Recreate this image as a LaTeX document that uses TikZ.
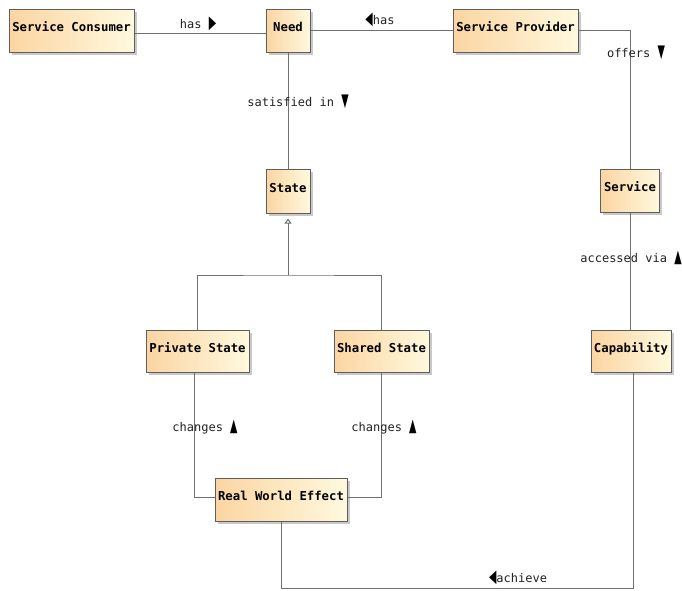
\documentclass[tikz,border=0pt]{standalone}
\usepackage{fontspec}
\usetikzlibrary{shadows,arrows.meta}
\newfontfamily\boxfont{DejaVu Sans Mono}
\newfontfamily\lblfont{DejaVu Sans Mono}
\newfontfamily\symfont{DejaVu Sans}
\newcommand\tri[1]{{\symfont\color{black}\scalebox{0.8}[1.5]{#1}}}
\definecolor{boxL}{HTML}{FBD5A2}
\definecolor{boxR}{HTML}{FFF9DE}
\definecolor{boxgray}{HTML}{5E5E5E}
\definecolor{linegray}{HTML}{707070}
\definecolor{txt}{HTML}{222222}
\begin{document}
\begin{tikzpicture}[x=1pt,y=-1pt,
  cls/.style={draw=boxgray, line width=1pt, left color=boxL, right color=boxR,
    inner sep=0pt, minimum height=43pt, text=black, text height=10pt, text depth=8pt,
    font=\boxfont\bfseries\fontsize{12.3}{14}\selectfont,
    drop shadow={shadow xshift=2.5pt,shadow yshift=-2.5pt,fill=black!35,opacity=0.6}},
  conn/.style={draw=linegray, line width=1pt},
  lbl/.style={inner sep=0pt, text=txt, font=\lblfont\fontsize{12}{14}\selectfont}]
\fill[white] (0,0) rectangle (682,590);
\useasboundingbox (0,0) rectangle (682,590);

% classes
\node[cls, minimum width=125pt] (sc) at (71.5,30.5) {Service Consumer};
\node[cls, minimum width=44pt] (need) at (288,30.5) {Need};
\node[cls, minimum width=125pt] (sp) at (515.5,30.5) {Service Provider};
\node[cls, minimum width=44pt, minimum height=44pt] (state) at (288,191) {State};
\node[cls, minimum width=59pt] (service) at (630,190.5) {Service};
\node[cls, minimum width=103pt, minimum height=42pt] (private) at (197.5,351) {Private State};
\node[cls, minimum width=95pt, minimum height=42pt] (shared) at (381.5,351) {Shared State};
\node[cls, minimum width=80pt, minimum height=42pt] (cap) at (631,351) {Capability};
\node[cls, minimum width=132pt] (rwe) at (281,499.5) {Real World Effect};

% helper coordinates
\coordinate (gj) at (288,275);
\coordinate (bot) at (0,588);

% connectors
\draw[conn] ([yshift=-2.5pt]sc.east) -- ([yshift=-2.5pt]need.west);
\draw[conn] (need.east) -- (sp.west);
\draw[conn] (sp.east) -| (service.north);
\draw[conn] (need.south) -- (state.north);
\draw[conn] (service.south) -- (service.south |- cap.north);
\draw[conn, -{Triangle[open,length=5pt,width=7pt]}] (gj) -- ([yshift=-5pt]state.south);
\draw[conn] (private.north) |- (gj) -| (shared.north);
\draw[conn] ([xshift=-3.5pt]private.south) |- ([yshift=2.5pt]rwe.west);
\draw[conn] (shared.south) |- ([yshift=2.5pt]rwe.east);
\draw[conn] (rwe.south) -- (rwe.south |- bot) -| ([xshift=2pt]cap.south);

% labels
\node[lbl] (l1) at (198,24) {has \tri{▶}};
\node[lbl] (l2) at (380,20) {\tri{◀}has};
\node[lbl] (l3) at (636,53) {offers \tri{▼}};
\node[lbl] (l4) at (298,102) {satisfied in \tri{▼}};
\node[lbl] (l5) at (631,258) {accessed via \tri{▲}};
\node[lbl] (l6) at (205,427) {changes \tri{▲}};
\node[lbl] (l7) at (384,427) {changes \tri{▲}};
\node[lbl] (l8) at (518,578) {\tri{◀}achieve};
\end{tikzpicture}
\end{document}
